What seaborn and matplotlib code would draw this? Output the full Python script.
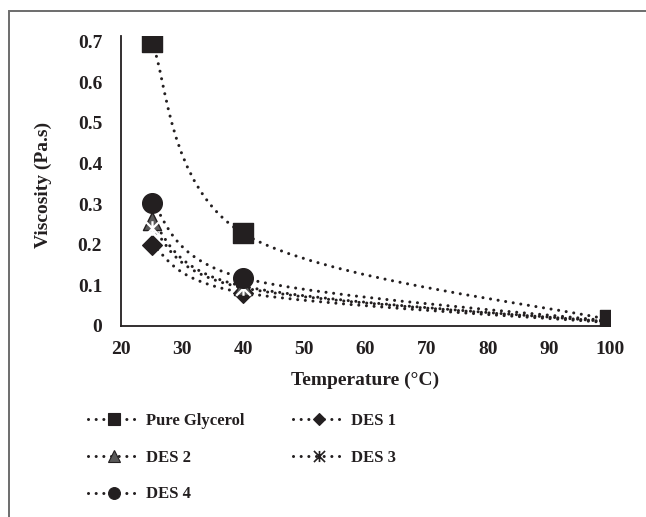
import numpy as np
import pandas as pd
import matplotlib
matplotlib.use("Agg")
import matplotlib.pyplot as plt
import seaborn as sns
from matplotlib.path import Path
from matplotlib.patches import PathPatch, Rectangle
from matplotlib.lines import Line2D

# ---- data ----
temperature = [25, 40, 100]
pure_glycerol = [0.700, 0.228, 0.015]
des1 = [0.200, 0.082, 0.008]
des2 = [0.258, 0.098, 0.010]
des3 = [0.242, 0.094, 0.010]
des4 = [0.303, 0.118, 0.012]
series_names = ["Pure Glycerol", "DES 1", "DES 2", "DES 3", "DES 4"]
x_ticks = [20, 30, 40, 50, 60, 70, 80, 90, 100]
y_ticks = [0, 0.1, 0.2, 0.3, 0.4, 0.5, 0.6, 0.7]
y_tick_labels = ["0", "0.1", "0.2", "0.3", "0.4", "0.5", "0.6", "0.7"]
x_label = "Temperature (°C)"
y_label = "Viscosity (Pa.s)"

sns.set_theme(style="white")
plt.rcParams["font.family"] = ["Liberation Serif", "DejaVu Serif"]
plt.rcParams["font.weight"] = "bold"

DARK = "#231f20"
GREY = "#595959"
TICK_FS = 14
LEG_FS = 12.0

# Excel-like "star" marker: an x with a vertical bar
star = Path([(-1, -1), (1, 1), (-1, 1), (1, -1), (0, -1), (0, 1)],
            [Path.MOVETO, Path.LINETO] * 3)

styles = {
    "Pure Glycerol": dict(marker="s", s=200, face=DARK, edge=DARK, lms=8.5),
    "DES 1": dict(marker="D", s=100, face=DARK, edge=DARK, lms=6),
    "DES 2": dict(marker="^", s=170, face=GREY, edge=DARK, lms=8.5),
    "DES 3": dict(marker=star, s=110, face="none", edge=DARK, lms=8),
    "DES 4": dict(marker="o", s=200, face=DARK, edge=DARK, lms=8.5),
}
values = {"Pure Glycerol": pure_glycerol, "DES 1": des1, "DES 2": des2,
          "DES 3": des3, "DES 4": des4}

fig = plt.figure(figsize=(6.46, 5.17), dpi=100)
ax = fig.add_axes([121 / 646, 1 - 326 / 517, (610 - 121) / 646, (326 - 35.7) / 517])

LW = 2.2
LS = (0, (0.01, 2.5))


def smooth_path(xs, ys):
    pts = np.column_stack([xs, ys]).astype(float)
    n = len(pts)
    verts = [pts[0]]
    codes = [Path.MOVETO]
    for i in range(n - 1):
        p0 = pts[i - 1] if i > 0 else pts[i]
        p1 = pts[i]
        p2 = pts[i + 1]
        p3 = pts[i + 2] if i + 2 < n else pts[i + 1]
        verts += [p1 + (p2 - p0) / 6.0, p2 - (p3 - p1) / 6.0, p2]
        codes += [Path.CURVE4] * 3
    return Path(verts, codes)


for name in series_names:
    patch = PathPatch(smooth_path(temperature, values[name]), facecolor="none",
                      edgecolor=DARK, lw=LW, linestyle=LS, zorder=2)
    patch.set_capstyle("round")
    ax.add_patch(patch)

for name in series_names:
    st = styles[name]
    df = pd.DataFrame({"Temperature": temperature, "Viscosity": values[name]})
    if st["face"] == "none":
        sns.scatterplot(data=df, x="Temperature", y="Viscosity", marker=st["marker"],
                        s=st["s"], color=DARK, linewidths=1.6, ax=ax, zorder=3)
    else:
        sns.scatterplot(data=df, x="Temperature", y="Viscosity", marker=st["marker"],
                        s=st["s"], color=st["face"], edgecolor=st["edge"],
                        linewidth=1.0, ax=ax, zorder=3)

ax.set_xlim(20, 100)
ax.set_ylim(0, 0.715)
ax.set_xticks(x_ticks)
ax.set_xticklabels([str(t) for t in x_ticks])
ax.set_yticks(y_ticks)
ax.set_yticklabels(y_tick_labels)
ax.tick_params(axis="both", length=0, labelsize=TICK_FS, colors=DARK)
ax.tick_params(axis="y", pad=13.5)
ax.tick_params(axis="x", pad=10.5)
for lab in ax.get_xticklabels() + ax.get_yticklabels():
    lab.set_fontweight("bold")

for side in ["top", "right"]:
    ax.spines[side].set_visible(False)
for side in ["left", "bottom"]:
    ax.spines[side].set_color(DARK)
    ax.spines[side].set_linewidth(1.3)

ax.set_xlabel(x_label, fontsize=TICK_FS, fontweight="bold", color=DARK)
ax.set_ylabel(y_label, fontsize=TICK_FS, fontweight="bold", color=DARK)
ax.xaxis.set_label_coords(0.5, -0.158)
ax.yaxis.set_label_coords(-0.142, 0.486)

# legend (row-major order as in Excel)
handles = {}
for name in series_names:
    st = styles[name]
    handles[name] = Line2D([], [], color=DARK, lw=LW, linestyle=LS,
                           dash_capstyle="round", marker=st["marker"],
                           markersize=st["lms"], markerfacecolor=st["face"],
                           markeredgecolor=st["edge"],
                           markeredgewidth=1.2 if st["face"] == "none" else 0.8)
order = ["Pure Glycerol", "DES 2", "DES 4", "DES 1", "DES 3"]
fig.legend([handles[n] for n in order], order, loc="upper left",
           bbox_to_anchor=(73 / 646, 1 - 398 / 517), ncol=2, frameon=False,
           prop={"family": "Liberation Serif", "weight": "bold", "size": LEG_FS},
           handlelength=3.15, handletextpad=0.35, columnspacing=2.9,
           labelspacing=1.24, labelcolor=DARK)

# outer chart-area frame (cropped on right and bottom)
fig.patches.append(Rectangle((9 / 646, -0.1), 2.0, 1.1 - 11 / 517,
                             transform=fig.transFigure, fill=False,
                             edgecolor="#6d6d6d", lw=1.4, zorder=0))

fig.savefig("out.png", dpi=100)
